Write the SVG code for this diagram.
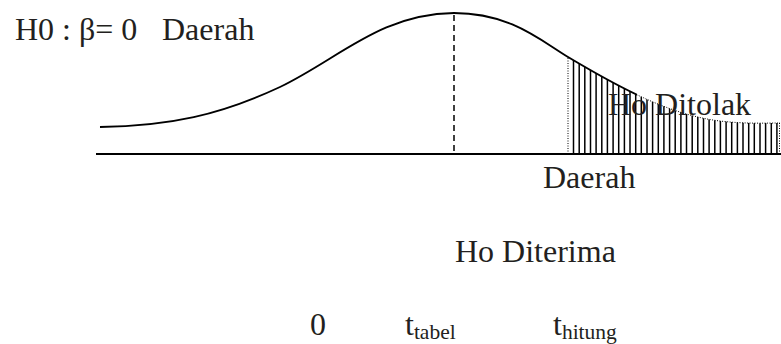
<svg xmlns="http://www.w3.org/2000/svg" width="781" height="344" viewBox="0 0 781 344">
<style>
.t{font-family:"Liberation Serif","Times New Roman",serif;font-size:32px;fill:#231f20}
.sub{font-size:21.5px}
.curve{fill:none;stroke:#000;stroke-width:1.9}
.dot{fill:none;stroke:#000;stroke-width:1;stroke-dasharray:1 1.5}
.hatch{fill:none;stroke:#000;stroke-width:1.5}
</style>
<defs>
<path id="bell" d="M100,127 C170,126 220,115 280,87 C340,58 380,14 454,13 C510,13 540,40 568,57 C620,88 670,115 720,121 C745,124 765,123 780,123"/>
<clipPath id="under"><path d="M568,57 C620,88 670,115 720,121 C745,124 765,123 780,123 L780,154 L568,154 Z"/></clipPath>
<clipPath id="leftPart"><rect x="0" y="0" width="637" height="344"/></clipPath>
<clipPath id="rightPart"><rect x="637" y="0" width="144" height="344"/></clipPath>
</defs>
<g id="axis"><line x1="96" y1="154" x2="781" y2="154" stroke="#000" stroke-width="1.8"/></g>
<g id="rejection-region">
<path class="hatch" clip-path="url(#under)" d="M573.5,40V154M579.2,40V154M584.8,40V154M590.5,40V154M596.1,40V154M601.8,40V154M607.4,40V154M613.1,40V154M618.7,40V154M624.4,40V154M630,40V154M635.7,40V154M641.3,40V154M647,40V154M652.6,40V154M658.3,40V154M663.9,40V154M669.6,40V154M675.2,40V154M680.9,40V154M686.5,40V154M692.2,40V154M697.8,40V154M703.5,40V154M709.1,40V154M714.8,40V154M720.4,40V154M726.1,40V154M731.7,40V154M737.4,40V154M743,40V154M748.7,40V154M754.3,40V154M760,40V154M765.6,40V154M771.3,40V154M776.9,40V154"/>
<line class="dot" x1="568" y1="58" x2="568" y2="154"/>
<line class="dot" x1="779.5" y1="123" x2="779.5" y2="154"/>
<use href="#bell" class="dot" clip-path="url(#rightPart)"/>
</g>
<g id="bell-curve"><use href="#bell" class="curve" clip-path="url(#leftPart)"/></g>
<g id="mean-line"><line x1="454" y1="15" x2="454" y2="151" stroke="#000" stroke-width="1.5" stroke-dasharray="6 4"/></g>
<g id="labels">
<text class="t" x="15" y="40">H0 : β= 0<tspan x="162">Daerah</tspan></text>
<text class="t" x="608" y="115">Ho Ditolak</text>
<text class="t" x="543" y="188">Daerah</text>
<text class="t" x="455" y="262">Ho Diterima</text>
<text class="t" x="310" y="335">0</text>
<text class="t" x="405" y="335">t<tspan class="sub" dy="4">tabel</tspan></text>
<text class="t" x="553" y="335">t<tspan class="sub" dy="4">hitung</tspan></text>
</g>
</svg>
